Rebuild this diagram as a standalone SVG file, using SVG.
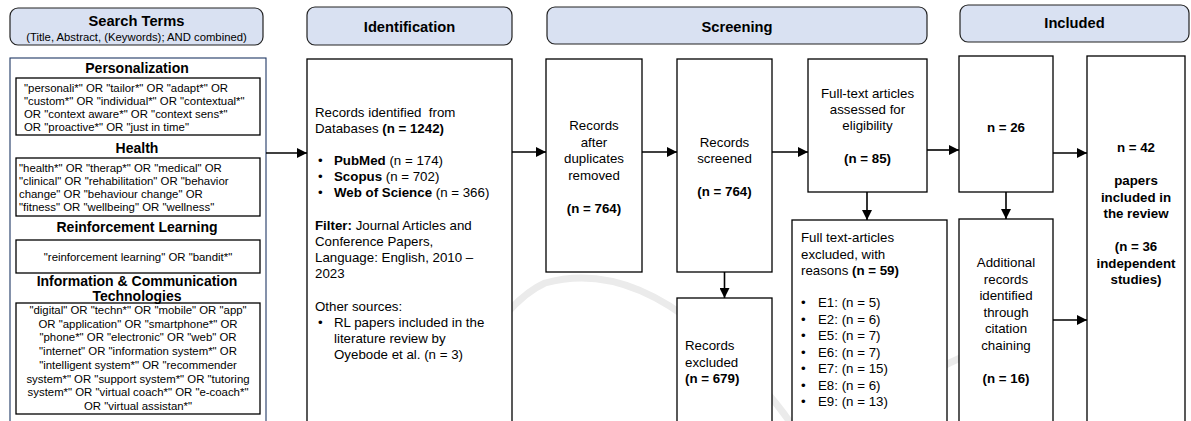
<svg xmlns="http://www.w3.org/2000/svg" width="1191" height="421" viewBox="0 0 1191 421">
  <style>
    text { font-family: "Liberation Sans", Arial, sans-serif; fill: #000; }
    .hdr { fill: #d9e1f2; stroke: #222; stroke-width: 1.2; }
    .hdrt { font-size: 14.7px; font-weight: 700; text-anchor: middle; }
    .sub { font-size: 11.3px; text-anchor: middle; }
    .box { fill: #fff; stroke: #000; stroke-width: 1.3; }
    .outer { fill: #fff; stroke: #1f3864; stroke-width: 1.1; }
    .sec { font-size: 14px; font-weight: 700; text-anchor: middle; }
    .term { font-size: 11.4px; }
    .termc { font-size: 11.4px; text-anchor: middle; }
    .t { font-size: 13.3px; }
    .tc { font-size: 13.3px; text-anchor: middle; }
    .b { font-weight: 700; }
    .wm { fill: none; stroke: #ebebeb; stroke-width: 7; stroke-linecap: round; }
    .conn line { stroke: #000; stroke-width: 1.6; }
  </style>
  <defs>
    <marker id="arrow" viewBox="0 0 10 10" refX="10" refY="5" markerWidth="10" markerHeight="10" markerUnits="userSpaceOnUse" orient="auto">
      <path d="M0,0 L10,5 L0,10 z" fill="#000"/>
    </marker>
  </defs>

  <rect width="1191" height="421" fill="#fff"/>

  <!-- faint background swoosh -->
  <g id="watermark">
    <path class="wm" d="M440,425 Q495,305 545,283 Q620,262 700,328 Q760,378 792,425"/>
    <path class="wm" d="M872,425 Q925,362 1000,345"/>
  </g>

  <!-- column headers -->
  <g id="hdr-search">
    <rect class="hdr" x="10" y="8" width="253" height="37" rx="8"/>
    <text class="hdrt" x="136.5" y="26">Search Terms</text>
    <text class="sub" x="136.5" y="41">(Title, Abstract, (Keywords); AND combined)</text>
  </g>
  <g id="hdr-identification">
    <rect class="hdr" x="307" y="7" width="205" height="38" rx="8"/>
    <text class="hdrt" x="409.5" y="32">Identification</text>
  </g>
  <g id="hdr-screening">
    <rect class="hdr" x="547" y="7" width="380" height="37" rx="8"/>
    <text class="hdrt" x="737" y="32">Screening</text>
  </g>
  <g id="hdr-included">
    <rect class="hdr" x="960" y="5" width="229" height="37" rx="8"/>
    <text class="hdrt" x="1074.5" y="28">Included</text>
  </g>

  <!-- search terms -->
  <g id="search-terms">
    <rect class="outer" x="10" y="58" width="256" height="380"/>

    <rect class="box" x="16" y="78" width="244" height="57"/>
    <text class="sec" x="137" y="73">Personalization</text>
    <text class="term" x="24" y="91.5">"personali*" OR "tailor*" OR "adapt*" OR</text>
    <text class="term" x="24" y="104.5">"custom*" OR "individual*" OR "contextual*"</text>
    <text class="term" x="24" y="117.5">OR "context aware*" OR "context sens*"</text>
    <text class="term" x="24" y="130.5">OR "proactive*" OR "just in time"</text>

    <rect class="box" x="16" y="158" width="244" height="58"/>
    <text class="sec" x="137" y="153">Health</text>
    <text class="term" x="19" y="171.5">"health*" OR "therap*" OR "medical" OR</text>
    <text class="term" x="19" y="184.5">"clinical" OR "rehabilitation" OR "behavior</text>
    <text class="term" x="19" y="197.5">change" OR "behaviour change" OR</text>
    <text class="term" x="19" y="210.5">"fitness" OR "wellbeing"  OR "wellness"</text>

    <rect class="box" x="16" y="240" width="244" height="33"/>
    <text class="sec" x="137" y="232">Reinforcement Learning</text>
    <text class="termc" x="138" y="261">"reinforcement learning" OR "bandit*"</text>

    <rect class="box" x="16" y="303" width="244" height="111"/>
    <text class="sec" x="137" y="285.5">Information &amp; Communication</text>
    <text class="sec" x="137" y="300.5">Technologies</text>
    <text class="termc" x="138" y="314">"digital" OR "techn*" OR "mobile"  OR "app"</text>
    <text class="termc" x="138" y="327.7">OR "application" OR "smartphone*" OR</text>
    <text class="termc" x="138" y="341.4">"phone*" OR "electronic" OR "web"  OR</text>
    <text class="termc" x="138" y="355.1">"internet" OR "information system*" OR</text>
    <text class="termc" x="138" y="368.8">"intelligent system*" OR "recommender</text>
    <text class="termc" x="138" y="382.5">system*" OR "support system*" OR "tutoring</text>
    <text class="termc" x="138" y="396.2">system*" OR "virtual coach*" OR "e-coach*"</text>
    <text class="termc" x="138" y="409.9">OR "virtual assistan*"</text>
  </g>

  <!-- identification -->
  <g id="identified">
    <rect class="box" x="307" y="59" width="205" height="380"/>
    <text class="t" x="315" y="117" xml:space="preserve">Records identified  from</text>
    <text class="t" x="315" y="133">Databases <tspan class="b">(n = 1242)</tspan></text>
    <text class="t" x="318" y="165">•</text>
    <text class="t" x="334" y="165"><tspan class="b">PubMed</tspan> (n = 174)</text>
    <text class="t" x="318" y="181">•</text>
    <text class="t" x="334" y="181"><tspan class="b">Scopus</tspan> (n = 702)</text>
    <text class="t" x="318" y="197">•</text>
    <text class="t" x="334" y="197"><tspan class="b">Web of Science</tspan> (n = 366)</text>
    <text class="t" x="315" y="230"><tspan class="b">Filter:</tspan> Journal Articles and</text>
    <text class="t" x="315" y="246">Conference Papers,</text>
    <text class="t" x="315" y="262">Language: English, 2010 –</text>
    <text class="t" x="315" y="278">2023</text>
    <text class="t" x="315" y="311">Other sources:</text>
    <text class="t" x="318" y="327">•</text>
    <text class="t" x="334" y="327">RL papers included in the</text>
    <text class="t" x="334" y="343">literature review by</text>
    <text class="t" x="334" y="359">Oyebode et al. (n = 3)</text>
  </g>

  <!-- screening -->
  <g id="deduplicated">
    <rect class="box" x="546" y="59" width="96" height="213"/>
    <text class="tc" x="594" y="130">Records</text>
    <text class="tc" x="594" y="146.5">after</text>
    <text class="tc" x="594" y="163">duplicates</text>
    <text class="tc" x="594" y="179.5">removed</text>
    <text class="tc b" x="594" y="212.5">(n = 764)</text>
  </g>
  <g id="screened">
    <rect class="box" x="677" y="59" width="95" height="213"/>
    <text class="tc" x="724.5" y="146.5">Records</text>
    <text class="tc" x="724.5" y="163">screened</text>
    <text class="tc b" x="724.5" y="196">(n = 764)</text>
  </g>
  <g id="records-excluded">
    <rect class="box" x="677" y="298" width="95" height="140"/>
    <text class="t" x="685" y="350">Records</text>
    <text class="t" x="685" y="366.5">excluded</text>
    <text class="t b" x="685" y="383">(n = 679)</text>
  </g>
  <g id="eligibility">
    <rect class="box" x="808" y="59" width="119" height="133"/>
    <text class="tc" x="867.5" y="98">Full-text articles</text>
    <text class="tc" x="867.5" y="114">assessed for</text>
    <text class="tc" x="867.5" y="130">eligibility</text>
    <text class="tc b" x="867.5" y="163">(n = 85)</text>
  </g>
  <g id="fulltext-excluded">
    <rect class="box" x="792" y="220" width="155" height="218"/>
    <text class="t" x="801" y="242">Full text-articles</text>
    <text class="t" x="801" y="258.5">excluded, with</text>
    <text class="t" x="801" y="275">reasons <tspan class="b">(n = 59)</tspan></text>
    <text class="t" x="801" y="307">•</text><text class="t" x="818" y="307">E1: (n = 5)</text>
    <text class="t" x="801" y="323.5">•</text><text class="t" x="818" y="323.5">E2: (n = 6)</text>
    <text class="t" x="801" y="340">•</text><text class="t" x="818" y="340">E5: (n = 7)</text>
    <text class="t" x="801" y="356.5">•</text><text class="t" x="818" y="356.5">E6: (n = 7)</text>
    <text class="t" x="801" y="373">•</text><text class="t" x="818" y="373">E7: (n = 15)</text>
    <text class="t" x="801" y="389.5">•</text><text class="t" x="818" y="389.5">E8: (n = 6)</text>
    <text class="t" x="801" y="406">•</text><text class="t" x="818" y="406">E9: (n = 13)</text>
  </g>

  <!-- included -->
  <g id="included-26">
    <rect class="box" x="959" y="56" width="94" height="136"/>
    <text class="tc b" x="1006" y="132">n = 26</text>
  </g>
  <g id="citation-chaining">
    <rect class="box" x="959" y="219" width="94" height="220"/>
    <text class="tc" x="1006" y="267">Additional</text>
    <text class="tc" x="1006" y="283.5">records</text>
    <text class="tc" x="1006" y="300">identified</text>
    <text class="tc" x="1006" y="316.5">through</text>
    <text class="tc" x="1006" y="333">citation</text>
    <text class="tc" x="1006" y="349.5">chaining</text>
    <text class="tc b" x="1006" y="383">(n = 16)</text>
  </g>
  <g id="included-42">
    <rect class="box" x="1087" y="56" width="98" height="383"/>
    <text class="tc b" x="1136" y="152">n = 42</text>
    <text class="tc b" x="1136" y="185">papers</text>
    <text class="tc b" x="1136" y="201.5">included in</text>
    <text class="tc b" x="1136" y="218">the review</text>
    <text class="tc b" x="1136" y="251">(n = 36</text>
    <text class="tc b" x="1136" y="267.5">independent</text>
    <text class="tc b" x="1136" y="284">studies)</text>
  </g>

  <!-- connectors -->
  <g id="connectors" class="conn">
    <line x1="266" y1="153" x2="307" y2="153" marker-end="url(#arrow)"/>
    <line x1="512" y1="152" x2="546" y2="152" marker-end="url(#arrow)"/>
    <line x1="642" y1="152" x2="677" y2="152" marker-end="url(#arrow)"/>
    <line x1="772" y1="152" x2="808" y2="152" marker-end="url(#arrow)"/>
    <line x1="724.5" y1="272" x2="724.5" y2="298" marker-end="url(#arrow)"/>
    <line x1="927" y1="150" x2="959" y2="150" marker-end="url(#arrow)"/>
    <line x1="867" y1="192" x2="867" y2="220" marker-end="url(#arrow)"/>
    <line x1="1006" y1="192" x2="1006" y2="219" marker-end="url(#arrow)"/>
    <line x1="1053" y1="153" x2="1087" y2="153" marker-end="url(#arrow)"/>
    <line x1="1053" y1="320" x2="1087" y2="320" marker-end="url(#arrow)"/>
  </g>
</svg>
